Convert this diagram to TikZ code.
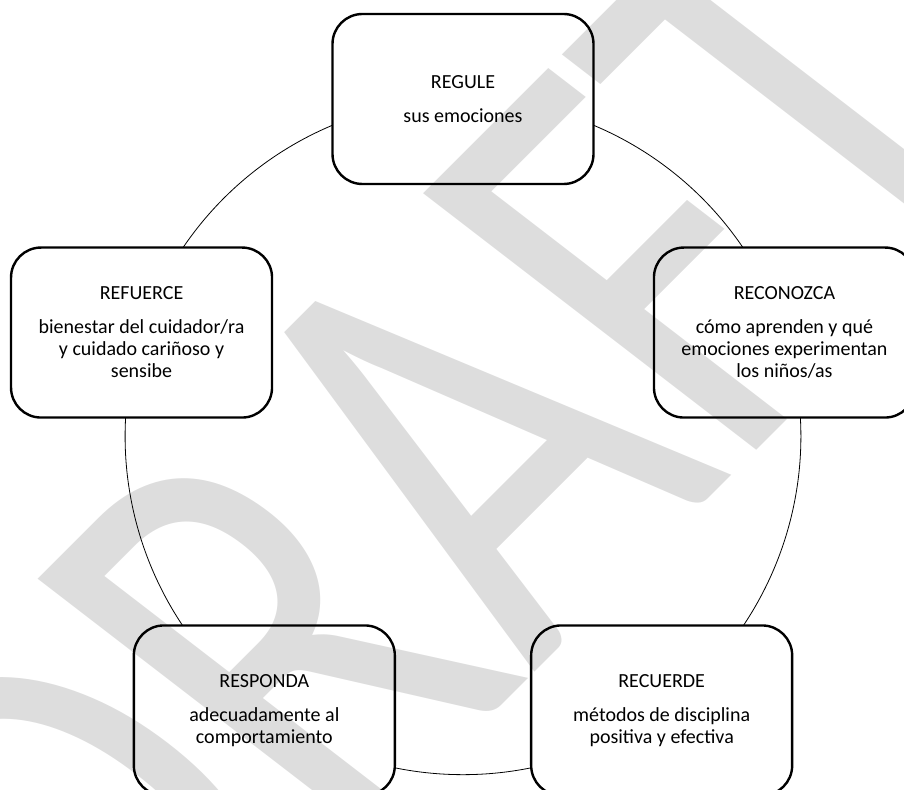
\documentclass[tikz,border=0pt]{standalone}
\usepackage{fontspec}
\setmainfont{Carlito}
\usetikzlibrary{positioning, backgrounds}

\begin{document}
\begin{tikzpicture}[
        x=1pt, y=1pt,
        card/.style={rectangle, draw, line width=2.4pt, rounded corners=30pt, fill=white, minimum width=261pt, minimum height=170pt, align=center, font=\fontsize{20}{22}\selectfont},
        cycleline/.style={line width=0.8pt, bend right=36, looseness=0.94},
        watermark/.style={text=black, text opacity=0.135, font=\fontsize{650}{650}\selectfont, anchor=base, inner sep=0pt, rotate=45, xslant=-0.13, xscale=0.75}
    ]
%
    \useasboundingbox (-463,-352) rectangle (441,437);
%
    % Nodes
    \node[card] (regule) at (90:338) {REGULE\\[12pt]sus emociones};
    \node[card] (reconozca) at (18:338) {RECONOZCA\\[12pt]cómo aprenden y qué\\emociones experimentan\\los niños/as};
    \node[card] (recuerde) at (-54:338) {RECUERDE\\[12pt]métodos de disciplina\\positiva y efectiva};
    \node[card] (responda) at (234:338) {RESPONDA\\[12pt]adecuadamente al\\comportamiento};
    \node[card] (refuerce) at (162:338) {REFUERCE\\[12pt]bienestar del cuidador/ra\\y cuidado cariñoso y\\sensibe};
%
    % Arcs
    \begin{scope}[on background layer]
    \draw[cycleline] (regule.center) to (refuerce.center);
    \draw[cycleline] (refuerce.center) to (responda.center);
    \draw[cycleline] (responda.center) to (recuerde.center);
    \draw[cycleline] (recuerde.center) to (reconozca.center);
    \draw[cycleline] (reconozca.center) to (regule.center);
    \end{scope}
%
    % Watermark
    \node[watermark] (draft) at (134,-173) {DRAFT};
%
\end{tikzpicture}
\end{document}
